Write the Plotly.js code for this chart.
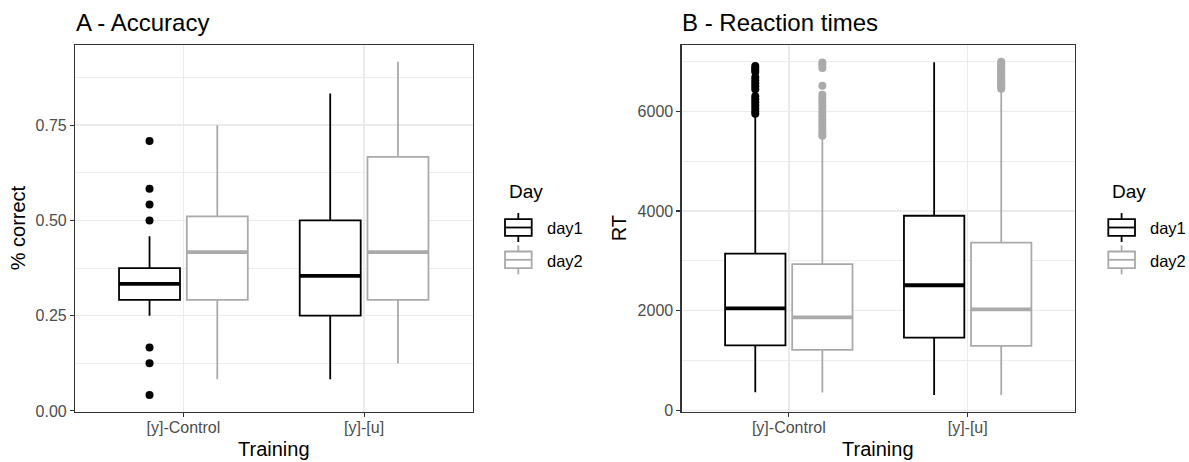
<!DOCTYPE html>
<html>
<head>
<meta charset="utf-8">
<script src="https://cdn.plot.ly/plotly-3.0.1.min.js"></script>
<style>
  html, body { margin: 0; padding: 0; background: #ffffff; }
  #chart { width: 1189px; height: 462px; }
</style>
</head>
<body>
<div id="chart"></div>
<script>
// ---- Data -------------------------------------------------------------
const trainings = ['[y]-Control', '[y]-[u]'];
const days = ['day1', 'day2'];

// A - Accuracy (proportion correct), box statistics per training group
const accDay1Q1 = [0.2917, 0.25];
const accDay1Median = [0.3333, 0.3542];
const accDay1Q3 = [0.375, 0.5];
const accDay1Lower = [0.25, 0.0833];
const accDay1Upper = [0.4583, 0.8333];
const accDay1Outliers = [[0.7083, 0.5833, 0.5417, 0.5, 0.1667, 0.125, 0.0417], []];

const accDay2Q1 = [0.2917, 0.2917];
const accDay2Median = [0.4167, 0.4167];
const accDay2Q3 = [0.5104, 0.6667];
const accDay2Lower = [0.0833, 0.125];
const accDay2Upper = [0.75, 0.9167];
const accDay2Outliers = [[], []];

// B - Reaction times (ms)
const rtDay1Q1 = [1305, 1460];
const rtDay1Median = [2045, 2510];
const rtDay1Q3 = [3146, 3904];
const rtDay1Lower = [365, 308];
const rtDay1Upper = [5900, 6985];
const rtDay1Outliers = [
  [6910, 6870, 6830, 6790, 6680, 6620, 6560, 6500, 6440, 6300, 6240, 6180, 6120, 6060, 6000, 5950],
  []
];

const rtDay2Q1 = [1212, 1295];
const rtDay2Median = [1864, 2025];
const rtDay2Q3 = [2932, 3366];
const rtDay2Lower = [358, 308];
const rtDay2Upper = [5485, 6418];
const rtDay2Outliers = [
  [6980, 6930, 6870, 6510, 6330, 6260, 6190, 6120, 6050, 5980, 5910, 5840, 5770, 5700, 5630, 5560, 5510],
  [6995, 6960, 6920, 6880, 6840, 6800, 6760, 6720, 6680, 6640, 6600, 6560, 6520, 6480, 6450]
];

// ---- Styling ----------------------------------------------------------
const dayColors = ['#000000', '#aaaaaa'];
const dodge = 0.1875;          // offset of each day's box from the category centre
const boxWidth = 0.3375;       // width of each box on the discrete axis
const boxLine = 1.8;
const medianLine = 3.8;
const fontFamily = '"Liberation Sans", Arial, Helvetica, sans-serif';

const W = 1189, H = 462;
const px = v => v / W;
const py = v => 1 - v / H;

// position of a box on the numeric category axis
function boxPos(catIndex, dayIndex) {
  return catIndex + 1 + (dayIndex === 0 ? -dodge : dodge);
}

const traces = [];
const overlays = [];

function addPanel(stats, xa, ya) {
  stats.forEach((s, d) => {
    const xs = trainings.map((_, i) => boxPos(i, d));
    traces.push({
      type: 'box',
      orientation: 'v',
      name: days[d],
      showlegend: false,
      xaxis: xa, yaxis: ya,
      x: xs,
      q1: s.q1, median: s.median, q3: s.q3,
      lowerfence: s.lower, upperfence: s.upper,
      width: boxWidth,
      whiskerwidth: 0,
      boxpoints: false,
      fillcolor: '#ffffff',
      line: { color: dayColors[d], width: boxLine },
      hoverinfo: 'skip'
    });

    // thicker median bar, as in a ggplot boxplot
    const mx = [], my = [];
    xs.forEach((p, i) => {
      mx.push(p - boxWidth / 2, p + boxWidth / 2, null);
      my.push(s.median[i], s.median[i], null);
    });
    overlays.push({
      type: 'scatter', mode: 'lines', xaxis: xa, yaxis: ya,
      x: mx, y: my, showlegend: false, hoverinfo: 'skip',
      line: { color: dayColors[d], width: medianLine }
    });

    // outlying observations
    const ox = [], oy = [];
    s.outliers.forEach((vals, i) => {
      vals.forEach(v => { ox.push(xs[i]); oy.push(v); });
    });
    overlays.push({
      type: 'scatter', mode: 'markers', xaxis: xa, yaxis: ya,
      x: ox, y: oy, showlegend: false, hoverinfo: 'skip',
      marker: { color: dayColors[d], size: 8, line: { width: 0 } }
    });
  });
}

addPanel([
  { q1: accDay1Q1, median: accDay1Median, q3: accDay1Q3, lower: accDay1Lower, upper: accDay1Upper, outliers: accDay1Outliers },
  { q1: accDay2Q1, median: accDay2Median, q3: accDay2Q3, lower: accDay2Lower, upper: accDay2Upper, outliers: accDay2Outliers }
], 'x', 'y');

addPanel([
  { q1: rtDay1Q1, median: rtDay1Median, q3: rtDay1Q3, lower: rtDay1Lower, upper: rtDay1Upper, outliers: rtDay1Outliers },
  { q1: rtDay2Q1, median: rtDay2Median, q3: rtDay2Q3, lower: rtDay2Lower, upper: rtDay2Upper, outliers: rtDay2Outliers }
], 'x2', 'y2');

// ---- Layout -----------------------------------------------------------
// ggplot-like 5% expansion of the value range
function expanded(lo, hi) {
  const pad = (hi - lo) * 0.05;
  return [lo - pad, hi + pad];
}
const accAll = [].concat(accDay1Lower, accDay1Upper, accDay2Lower, accDay2Upper, ...accDay1Outliers, ...accDay2Outliers);
const rtAll = [].concat(rtDay1Lower, rtDay1Upper, rtDay2Lower, rtDay2Upper, ...rtDay1Outliers, ...rtDay2Outliers);

const xAxisBase = {
  range: [0.4, 2.6],
  tickmode: 'array',
  tickvals: [1, 2],
  ticktext: trainings,
  showgrid: true, gridcolor: '#ebebeb', gridwidth: 1.4,
  zeroline: false,
  showline: true, mirror: true, linecolor: '#333333', linewidth: 1.1,
  ticks: 'outside', ticklen: 4, tickwidth: 1.1, tickcolor: '#333333',
  ticklabelstandoff: -3,
  tickfont: { family: fontFamily, size: 16, color: '#4d4d4d' },
  fixedrange: true
};
const yAxisBase = {
  showgrid: true, gridcolor: '#ebebeb', gridwidth: 1.4,
  zeroline: false,
  showline: true, mirror: true, linecolor: '#333333', linewidth: 1.1,
  ticks: 'outside', ticklen: 4, tickwidth: 1.1, tickcolor: '#333333',
  tickfont: { family: fontFamily, size: 16, color: '#4d4d4d' },
  fixedrange: true
};

const annBase = { xref: 'paper', yref: 'paper', showarrow: false };
function ann(text, x, y, size, extra) {
  return Object.assign({}, annBase, {
    text: text, x: px(x), y: py(y), yanchor: 'middle',
    font: { family: fontFamily, size: size, color: '#000000' }
  }, extra || {});
}

const annotations = [
  ann('A - Accuracy', 74, 22, 24, { xanchor: 'left' }),
  ann('B - Reaction times', 680, 22, 24, { xanchor: 'left' }),
  ann('Training', 273.7, 449, 20, { xanchor: 'center' }),
  ann('Training', 878.2, 449, 20, { xanchor: 'center' }),
  ann('% correct', 18, 228.3, 20, { xanchor: 'center', textangle: -90 }),
  ann('RT', 619, 228.3, 20, { xanchor: 'center', textangle: -90 })
];
const shapes = [];

// "Day" key beside each panel: a small boxplot glyph per day
function addDayKey(left) {
  annotations.push(ann('Day', left + 1.5, 191, 19, { xanchor: 'left' }));
  days.forEach((name, d) => {
    const cy = 227.5 + d * 32.3;          // key row centre
    const cx = left + 13.3;
    const line = { color: dayColors[d], width: 1.8 };
    const seg = (x0, y0, x1, y1) => ({ type: 'line', xref: 'paper', yref: 'paper',
      x0: px(x0), y0: py(y0), x1: px(x1), y1: py(y1), line: line });
    shapes.push({ type: 'rect', xref: 'paper', yref: 'paper',
      x0: px(left), x1: px(left + 26.7), y0: py(cy - 8.3), y1: py(cy + 8.3),
      line: line, fillcolor: '#ffffff' });
    shapes.push(seg(left, cy, left + 26.7, cy));
    shapes.push(seg(cx, cy - 14.5, cx, cy - 8.3));
    shapes.push(seg(cx, cy + 8.3, cx, cy + 14.5));
    annotations.push(ann(name, left + 40, cy + 0.8, 16.5, { xanchor: 'left' }));
  });
}
addDayKey(505);
addDayKey(1108.3);

const layout = {
  width: W, height: H,
  margin: { l: 0, r: 0, t: 0, b: 0 },
  paper_bgcolor: '#ffffff', plot_bgcolor: '#ffffff',
  font: { family: fontFamily },
  showlegend: false,
  xaxis: Object.assign({}, xAxisBase, { domain: [px(75), px(472.5)], anchor: 'y' }),
  yaxis: Object.assign({}, yAxisBase, {
    domain: [py(411.7), py(45)], anchor: 'x',
    range: expanded(Math.min(...accAll), Math.max(...accAll)),
    tickmode: 'array', tickvals: [0, 0.25, 0.5, 0.75], tickformat: '.2f',
    minor: { tickmode: 'array', tickvals: [0.125, 0.375, 0.625, 0.875], showgrid: true, gridcolor: '#ebebeb', gridwidth: 0.9, ticks: '' }
  }),
  xaxis2: Object.assign({}, xAxisBase, { domain: [px(681.5), px(1075)], anchor: 'y2' }),
  yaxis2: Object.assign({}, yAxisBase, {
    domain: [py(411.7), py(45)], anchor: 'x2',
    range: expanded(Math.min(...rtAll), Math.max(...rtAll)),
    tickmode: 'array', tickvals: [0, 2000, 4000, 6000], tickformat: 'd',
    minor: { tickmode: 'array', tickvals: [1000, 3000, 5000, 7000], showgrid: true, gridcolor: '#ebebeb', gridwidth: 0.9, ticks: '' }
  }),
  annotations: annotations,
  shapes: shapes
};

Plotly.newPlot('chart', traces.concat(overlays), layout, { staticPlot: true, displayModeBar: false });
</script>
</body>
</html>
